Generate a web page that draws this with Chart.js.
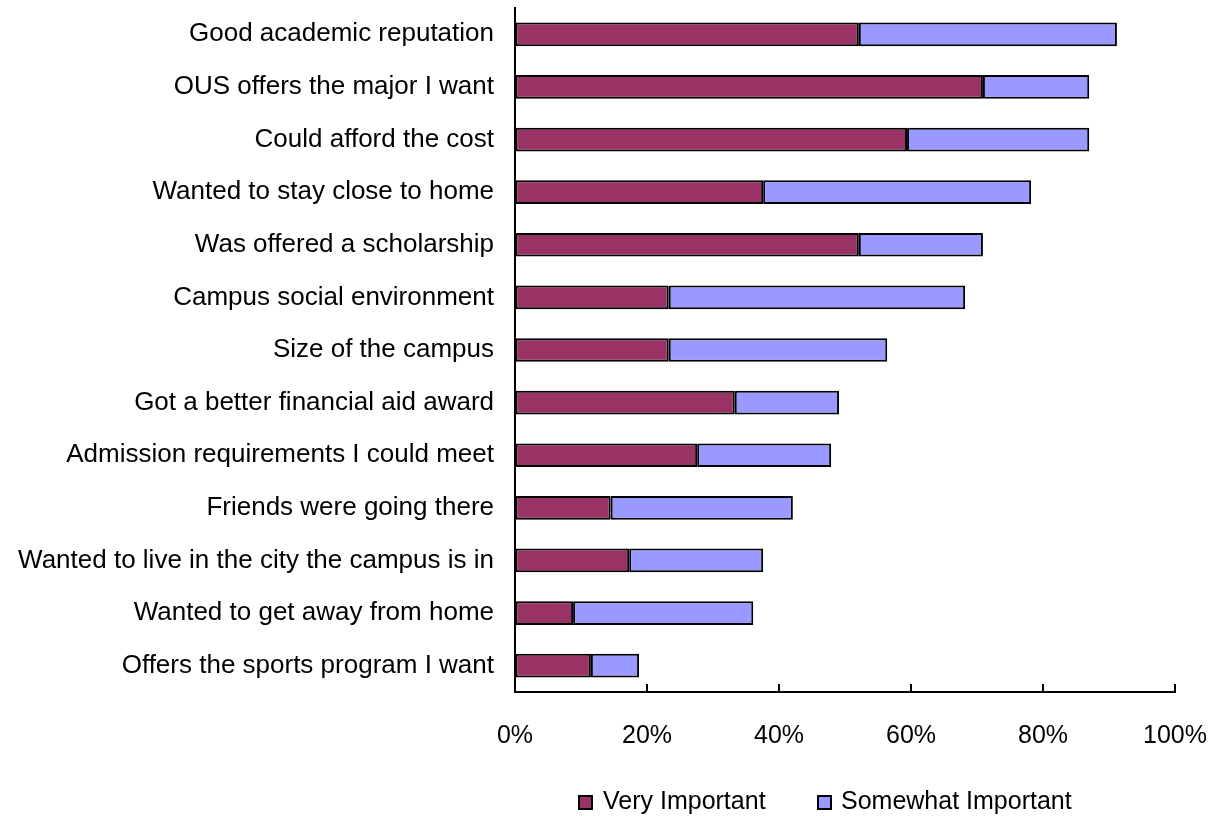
<!DOCTYPE html>
<html><head><meta charset="utf-8">
<script src="https://cdn.jsdelivr.net/npm/chart.js@4/dist/chart.umd.min.js"></script>
<style>
html,body{margin:0;padding:0;background:#fff;}
#wrap{position:relative;width:1214px;height:816px;}
.lg{position:absolute;font:25px "Liberation Sans",Arial,sans-serif;color:#000;white-space:nowrap;line-height:30px;top:785px;}
.sw{position:absolute;width:11px;height:11px;border:2px solid #000;top:795px;}
</style></head>
<body><div id="wrap"><canvas id="c" width="1214" height="816"></canvas>
<span class="sw" style="left:578px;background:#993366"></span><span class="lg" style="left:603px">Very Important</span>
<span class="sw" style="left:817px;background:#9999FF"></span><span class="lg" style="left:841px">Somewhat Important</span>
</div>
<script>
const categories = [
  "Good academic reputation",
  "OUS offers the major I want",
  "Could afford the cost",
  "Wanted to stay close to home",
  "Was offered a scholarship",
  "Campus social environment",
  "Size of the campus",
  "Got a better financial aid award",
  "Admission requirements I could meet",
  "Friends were going there",
  "Wanted to live in the city the campus is in",
  "Wanted to get away from home",
  "Offers the sports program I want"
];
const veryImportant = [52.1, 70.9, 59.4, 37.6, 52.1, 23.3, 23.3, 33.3, 27.6, 14.5, 17.3, 8.8, 11.5];
const somewhatImportant = [39.1, 16.1, 27.6, 40.6, 18.8, 44.9, 33.1, 15.8, 20.3, 27.6, 20.3, 27.3, 7.3];
const xTicks = [0, 20, 40, 60, 80, 100];

const FONT = '"Liberation Sans", Arial, sans-serif';

const innerTicks = {
  id: 'innerTicks',
  afterDraw(chart) {
    const x = chart.scales.x, ctx = chart.ctx, b = chart.chartArea.bottom;
    ctx.save();
    ctx.strokeStyle = '#000';
    ctx.lineWidth = 2;
    xTicks.forEach(v => {
      if (v === 0) return;
      const px = Math.round(x.getPixelForValue(v));
      ctx.beginPath();
      ctx.moveTo(px, b - 8);
      ctx.lineTo(px, b);
      ctx.stroke();
    });
    ctx.restore();
  }
};

new Chart(document.getElementById('c'), {
  type: 'bar',
  data: {
    labels: categories,
    datasets: [
      { label: 'Very Important', data: veryImportant, backgroundColor: '#993366', borderColor: '#000', borderWidth: 2, borderSkipped: false, categoryPercentage: 1, barPercentage: 0.45 },
      { label: 'Somewhat Important', data: somewhatImportant, backgroundColor: '#9999FF', borderColor: '#000', borderWidth: 2, borderSkipped: false, categoryPercentage: 1, barPercentage: 0.45 }
    ]
  },
  options: {
    indexAxis: 'y',
    responsive: false,
    animation: false,
    layout: { padding: { top: 8, right: 39, bottom: 64, left: 0 } },
    plugins: { legend: { display: false }, tooltip: { enabled: false } },
    scales: {
      x: {
        stacked: true, min: 0, max: 100,
        afterBuildTicks(s) { s.ticks = xTicks.map(v => ({ value: v })); },
        afterFit(s) { s.height = 60; s.paddingLeft = 0; s.paddingRight = 0; },
        grid: { display: true, drawOnChartArea: false, drawTicks: false },
        border: { display: true, color: '#000', width: 2 },
        ticks: { padding: 29, color: '#000', font: { family: FONT, size: 25 }, callback: v => v + '%' }
      },
      y: {
        stacked: true,
        afterFit(s) { s.width = 515; s.paddingTop = 0; s.paddingBottom = 0; },
        grid: { display: false, drawTicks: false },
        border: { display: true, color: '#000', width: 2 },
        ticks: { padding: 21, color: '#000', font: { family: FONT, size: 26 } }
      }
    }
  },
  plugins: [innerTicks]
});
</script>
</body></html>
